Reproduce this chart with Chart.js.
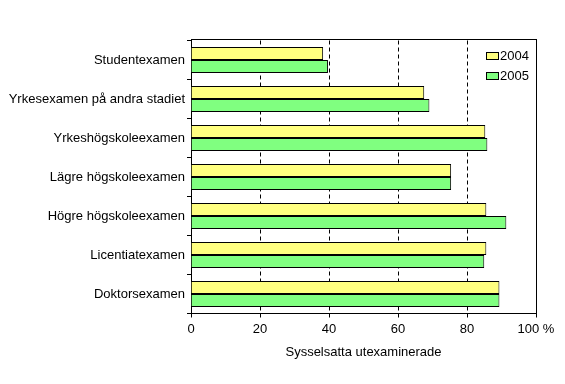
<!DOCTYPE html>
<html>
<head>
<meta charset="utf-8">
<script src="https://cdn.jsdelivr.net/npm/chart.js@4/dist/chart.umd.min.js"></script>
<style>
  html, body { margin: 0; padding: 0; background: #fff; }
  #wrap { width: 565px; height: 384px; position: relative; }
</style>
</head>
<body>
<div id="wrap"><canvas id="c" width="565" height="384"></canvas></div>
<script>
// Andel sysselsatta utexaminerade (%)
const categories = [
  'Studentexamen',
  'Yrkesexamen på andra stadiet',
  'Yrkeshögskoleexamen',
  'Lägre högskoleexamen',
  'Högre högskoleexamen',
  'Licentiatexamen',
  'Doktorsexamen'
];
const values2004 = [38.3, 67.6, 85.3, 75.4, 85.6, 85.6, 89.4];
const values2005 = [39.7, 69.1, 85.9, 75.4, 91.4, 85.0, 89.4];
const seriesLabels = ['2004', '2005'];
const xTicks = [0, 20, 40, 60, 80, 100];
const xTitle = 'Sysselsatta utexaminerade';

const FONT = { family: '"Liberation Sans", Arial, sans-serif', size: 13 };

// ram runt plottytan + legend inne i diagrammet
const frameAndLegend = {
  id: 'frameAndLegend',
  afterDraw(chart) {
    const { ctx, chartArea: a } = chart;
    ctx.save();
    ctx.fillStyle = '#000';
    const top = Math.floor(a.top), left = Math.round(a.left), right = Math.round(a.right);
    ctx.fillRect(left, top - 1, right - left + 1, 1);
    ctx.fillRect(right, top - 1, 1, Math.ceil(a.bottom) - top + 1);

    ctx.font = `${FONT.size}px ${FONT.family}`;
    ctx.textBaseline = 'middle';
    ctx.strokeStyle = '#000';
    ctx.lineWidth = 1;
    chart.data.datasets.forEach((ds, i) => {
      const bx = 486.5, by = 52.5 + i * 20;
      ctx.fillStyle = ds.backgroundColor;
      ctx.fillRect(bx, by, 12, 7);
      ctx.strokeRect(bx, by, 12, 7);
      ctx.fillStyle = '#000';
      ctx.fillText(ds.label, 500, by + 4);
    });
    ctx.restore();
  }
};

new Chart(document.getElementById('c'), {
  type: 'bar',
  data: {
    labels: categories,
    datasets: [
      { label: seriesLabels[0], data: values2004, backgroundColor: '#FFFF80', borderColor: '#000', borderWidth: 1 },
      { label: seriesLabels[1], data: values2005, backgroundColor: '#80FF80', borderColor: '#000', borderWidth: 1 }
    ]
  },
  options: {
    indexAxis: 'y',
    responsive: false,
    animation: false,
    devicePixelRatio: 1,
    categoryPercentage: 26 / 39,
    barPercentage: 1,
    layout: { padding: { left: 0, top: 40.5, right: 29, bottom: 20 } },
    plugins: { legend: { display: false }, tooltip: { enabled: false } },
    scales: {
      x: {
        min: 0, max: 100,
        afterBuildTicks: s => { s.ticks = xTicks.map(v => ({ value: v })); },
        ticks: {
          color: '#000', font: FONT, padding: 4, maxRotation: 0,
          callback: v => v === 100 ? '100 %' : String(v)
        },
        grid: {
          color: c => (c.tick && (c.tick.value === 0 || c.tick.value === 100)) ? 'rgba(0,0,0,0)' : '#000',
          tickColor: '#000',
          tickLength: 4,
          lineWidth: 1
        },
        border: { display: true, color: '#000', dash: [4, 3] },
        title: { display: true, text: xTitle, color: '#000', font: FONT, padding: { top: 6 } },
        afterFit: s => { s.height = 50.5; }
      },
      y: {
        ticks: { color: '#000', font: FONT, padding: 2 },
        grid: { drawOnChartArea: false, color: '#000', tickColor: '#000', tickLength: 4, offset: true },
        border: { display: true, color: '#000' },
        afterFit: s => { s.width = 191; }
      }
    }
  },
  plugins: [frameAndLegend]
});
</script>
</body>
</html>
